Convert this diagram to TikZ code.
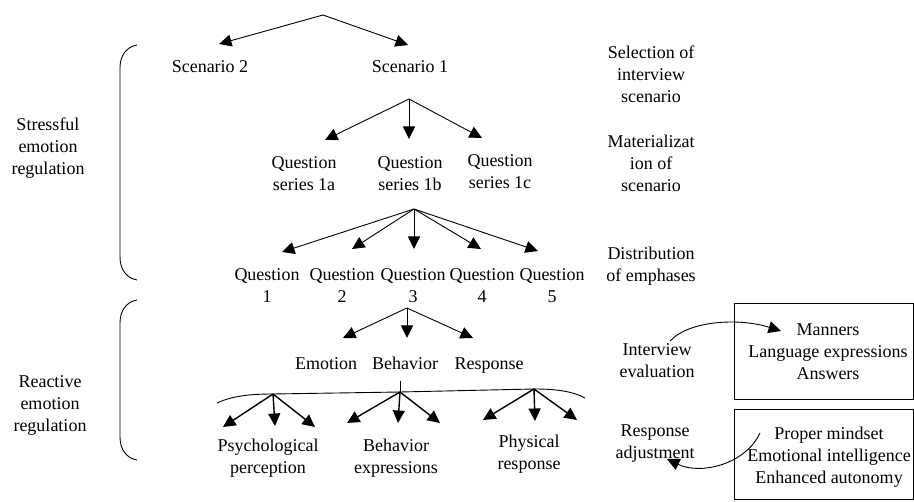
\documentclass[tikz,border=0pt]{standalone}
\usepackage{fontspec}
\setmainfont{Liberation Serif}
\usetikzlibrary{arrows.meta}
\begin{document}
\begin{tikzpicture}[x=1pt,y=-1pt,
  txt/.style={inner sep=0pt,align=center,font=\fontsize{18}{22}\selectfont},
  one/.style={text height=12.5pt,text depth=4pt},
  arr/.style={line width=0.9pt,-{Triangle[length=12.5pt,width=12pt]}},
  tharr/.style={line width=1.4pt,-{Triangle[length=12.5pt,width=12pt]}},
  ln/.style={line width=0.9pt}]
\useasboundingbox (0,0) rectangle (914,502);
% apex coordinates
\coordinate (a0) at (323,15);
\coordinate (a1) at (409,99);
\coordinate (a2) at (414,209);
\coordinate (a3) at (407,308);
\coordinate (bL) at (273,394);
\coordinate (bM) at (400,392);
\coordinate (bR) at (534,389);
% tips
\coordinate (t0a) at (219,44);
\coordinate (t0b) at (408,45);
\coordinate (t1a) at (325,140);
\coordinate (t1b) at (409,139);
\coordinate (t1c) at (482,138);
\coordinate (t2a) at (282,252);
\coordinate (t2b) at (352,249);
\coordinate (t2c) at (414,249);
\coordinate (t2d) at (481,249);
\coordinate (t2e) at (538,251);
\coordinate (t3a) at (343,338);
\coordinate (t3b) at (407,338);
\coordinate (t3c) at (473,338);
\coordinate (tLa) at (223,427);
\coordinate (tLb) at (275,426);
\coordinate (tLc) at (315,427);
\coordinate (tMa) at (347,423);
\coordinate (tMb) at (398,423);
\coordinate (tMc) at (440,423);
\coordinate (tRa) at (483,420);
\coordinate (tRb) at (535,421);
\coordinate (tRc) at (577,420);
% text nodes
\node[txt,one] (s2) at (210,68) {Scenario 2};
\node[txt,one] (s1) at (410,68) {Scenario 1};
\node[txt] (qa) at (304,174) {Question\\series 1a};
\node[txt] (qb) at (410,174) {Question\\series 1b};
\node[txt] (qc) at (500,172) {Question\\series 1c};
\node[txt] (q1) at (267,286) {Question\\1};
\node[txt] (q2) at (342,286) {Question\\2};
\node[txt] (q3) at (413,286) {Question\\3};
\node[txt] (q4) at (482,286) {Question\\4};
\node[txt] (q5) at (552,286) {Question\\5};
\node[txt,one] (emo) at (326,365) {Emotion};
\node[txt,one] (beh) at (405,365) {Behavior};
\node[txt,one] (res) at (489,365) {Response};
\node[txt] (psy) at (268,458) {Psychological\\perception};
\node[txt] (bex) at (396,458) {Behavior\\expressions};
\node[txt] (phy) at (529,454) {Physical\\response};
\node[txt] (sel) at (651,74) {Selection of\\interview\\scenario};
\node[txt] (mat) at (651,163) {Materializat\\ion of\\scenario};
\node[txt] (dis) at (651,266) {Distribution\\of emphases};
\node[txt] (ser) at (48,148) {Stressful\\emotion\\regulation};
\node[txt] (rer) at (50,405) {Reactive\\emotion\\regulation};
\node[txt] (iev) at (657,361) {Interview\\evaluation};
\node[txt] (rad) at (655,444) {Response\\adjustment};
\node[draw,line width=0.8pt,minimum width=179pt,minimum height=96pt] (box1) at (823.5,351) {};
\node[draw,line width=0.8pt,minimum width=179pt,minimum height=90pt] (box2) at (823.5,454) {};
\node[txt] (man) at (828,352) {Manners\\Language expressions\\Answers};
\node[txt] (pro) at (829,457) {Proper mindset\\Emotional intelligence\\Enhanced autonomy};
% arrows
\draw[arr] (a0) -- (t0a);
\draw[arr] (a0) -- (t0b);
\draw[arr] (a1) -- (t1a);
\draw[arr] (a1) -- (t1b);
\draw[arr] (a1) -- (t1c);
\draw[arr] (a2) -- (t2a);
\draw[arr] (a2) -- (t2b);
\draw[arr] (a2) -- (t2c);
\draw[arr] (a2) -- (t2d);
\draw[arr] (a2) -- (t2e);
\draw[arr] (a3) -- (t3a);
\draw[arr] (a3) -- (t3b);
\draw[arr] (a3) -- (t3c);
% branch line
\coordinate (bk) at (400,381);
\draw[ln] (bk) -- (bM);
\draw[ln] (217,403) .. controls (232,396) and (250,394) .. (bL) -- (bM) -- (bR) .. controls (555,389) and (572,391) .. (585,398);
\draw[tharr] (bL) -- (tLa);
\draw[tharr] (bL) -- (tLb);
\draw[tharr] (bL) -- (tLc);
\draw[tharr] (bM) -- (tMa);
\draw[tharr] (bM) -- (tMb);
\draw[tharr] (bM) -- (tMc);
\draw[tharr] (bR) -- (tRa);
\draw[tharr] (bR) -- (tRb);
\draw[tharr] (bR) -- (tRc);
% braces
\draw[ln] (137,45) .. controls (126,47) and (120,56) .. (120,68) -- (120,257) .. controls (120,269) and (126,278) .. (137,280);
\draw[ln] (137,300) .. controls (126,302) and (120,311) .. (120,323) -- (120,437) .. controls (120,449) and (126,458) .. (137,460);
% curved arrows
\coordinate (ie1) at (670,341);
\coordinate (ie2) at (781,331);
\draw[arr] (ie1) .. controls (690,320) and (740,318) .. (ie2);
\coordinate (ra1) at (760,433);
\coordinate (ra2) at (667,459);
\draw[arr] (ra1) .. controls (745,465) and (700,475) .. (ra2);
\end{tikzpicture}
\end{document}
